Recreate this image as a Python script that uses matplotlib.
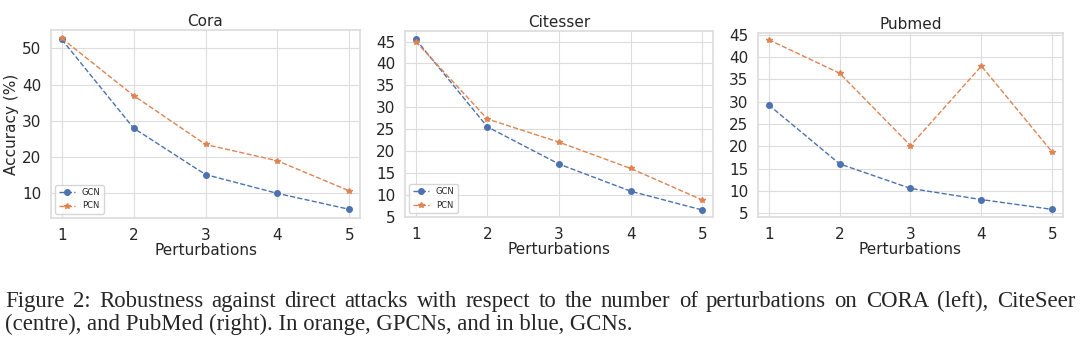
import matplotlib
matplotlib.use('Agg')
import matplotlib.pyplot as plt
import seaborn as sns

sns.set_theme(style='whitegrid', palette='deep')
plt.rcParams['font.family'] = ['DejaVu Sans']

perturbations = [1, 2, 3, 4, 5]

cora_gcn = [52.5, 28.0, 15.2, 10.0, 5.6]
cora_pcn = [52.8, 37.0, 23.5, 19.0, 10.7]

citeseer_gcn = [45.5, 25.5, 17.0, 10.8, 6.5]
citeseer_pcn = [45.0, 27.3, 22.0, 16.0, 8.8]

pubmed_gcn = [29.3, 16.1, 10.6, 8.1, 5.9]
pubmed_pcn = [43.9, 36.4, 20.2, 38.0, 18.7]

titles = ['Cora', 'Citesser', 'Pubmed']
series = [(cora_gcn, cora_pcn), (citeseer_gcn, citeseer_pcn), (pubmed_gcn, pubmed_pcn)]
ylims = [(3.2, 55.1), (4.9, 47.4), (4.2, 45.4)]
yticks = [[10, 20, 30, 40, 50], list(range(5, 50, 5)), list(range(5, 50, 5))]

caption_line1 = ('Figure 2: Robustness against direct attacks with respect to the number '
                 'of perturbations on CORA (left), CiteSeer')
caption_line2 = '(centre), and PubMed (right). In orange, GPCNs, and in blue, GCNs.'

# cajas de los ejes en píxeles (izq, arriba, der, abajo)
boxes = [(51, 30, 360, 218), (405, 31, 713, 217), (758, 33, 1063, 217)]
W, H = 1080, 346

fig = plt.figure(figsize=(10.8, 3.46), dpi=100)
blue, orange = sns.color_palette('deep')[0], sns.color_palette('deep')[1]

for i in range(3):
    l, t, r, b = boxes[i]
    ax = fig.add_axes([l / W, 1 - b / H, (r - l) / W, (b - t) / H])
    gcn, pcn = series[i]
    ax.plot(perturbations, gcn, linestyle='--', marker='o', markersize=4,
            color=blue, linewidth=1, label='GCN')
    ax.plot(perturbations, pcn, linestyle='--', marker='*', markersize=4,
            color=orange, linewidth=1, label='PCN')
    ax.set_title(titles[i], fontsize=11, pad=3)
    ax.set_xlabel('Perturbations', fontsize=11, labelpad=0)
    ax.set_xticks(perturbations)
    ax.set_yticks(yticks[i])
    ax.set_ylim(*ylims[i])
    ax.set_xlim(0.85, 5.15)
    ax.tick_params(labelsize=11, pad=1)
    for s in ax.spines.values():
        s.set_color('#dddddd')
    ax.grid(color='#dddddd', linewidth=0.8)
    if i == 0:
        ax.set_ylabel('Accuracy (%)', fontsize=11, labelpad=2)
    if i < 2:
        ax.legend(loc='lower left', fontsize=6, frameon=True)

# pie de figura: primera línea justificada
cap_font = dict(fontsize=16.4, family='Liberation Serif', va='baseline', ha='left')
renderer = fig.canvas.get_renderer()
words = caption_line1.split(' ')
texts = [fig.text(0, 1 - 307 / H, w, **cap_font) for w in words]
widths = [tx.get_window_extent(renderer).width for tx in texts]
x0, x1 = 5, 1075
gap = (x1 - x0 - sum(widths)) / (len(words) - 1)
x = x0
for tx, w in zip(texts, widths):
    tx.set_x(x / W)
    x += w + gap
fig.text(x0 / W, 1 - 330 / H, caption_line2, **cap_font)

fig.savefig('out.png', dpi=100)
